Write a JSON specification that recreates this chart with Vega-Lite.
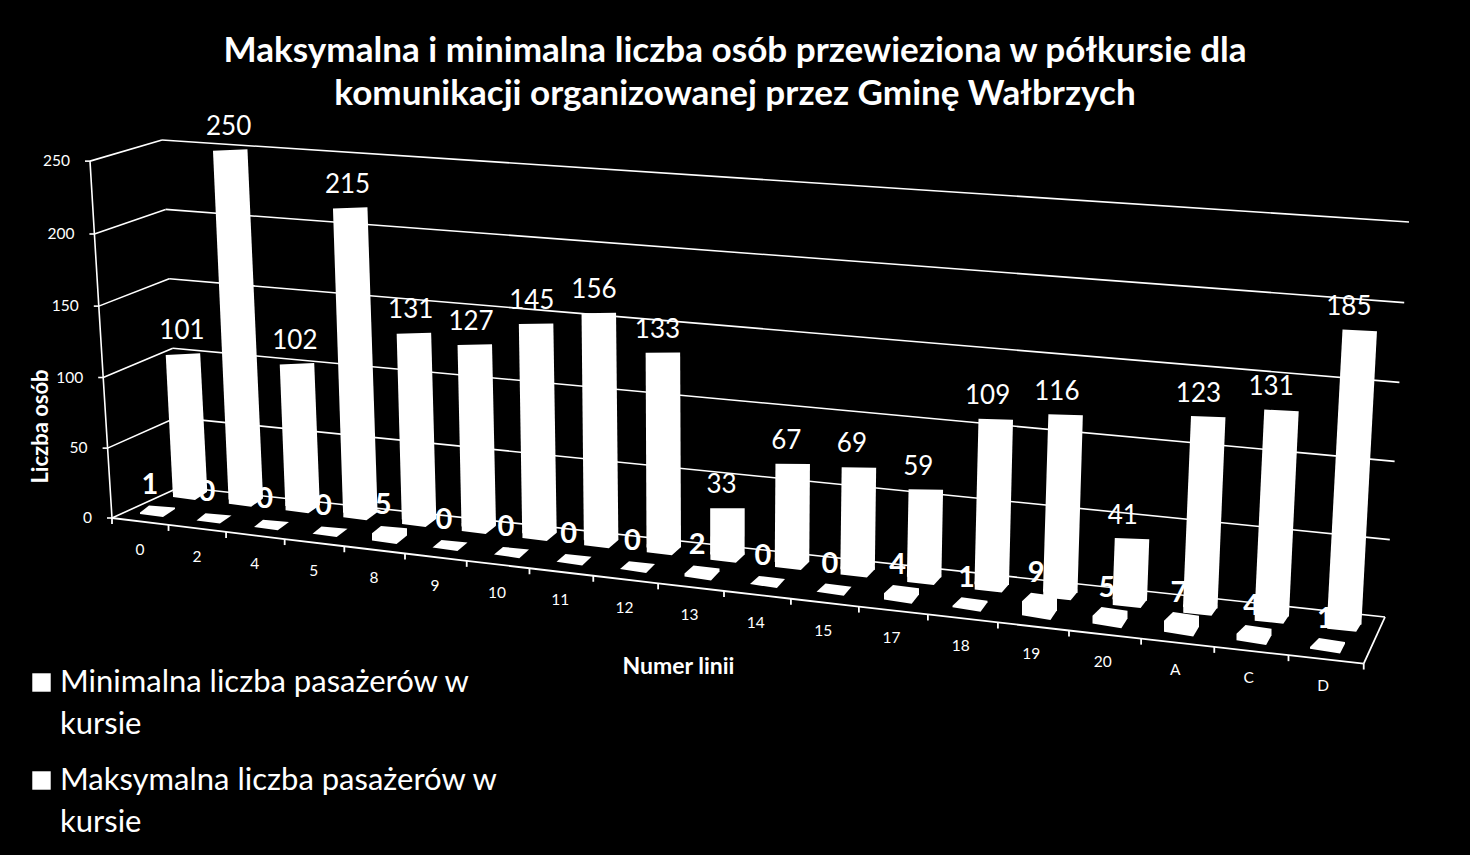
{
"$schema":"https://vega.github.io/schema/vega-lite/v6.json",
"width":1470,"height":855,"padding":0,"autosize":{"type":"none"},
"background":"#000000",
"config":{"view":{"stroke":null},"font":"Lato","style":{"guide-label":{"lineHeight":42}}},
"title":{"text":["Maksymalna i minimalna liczba osób przewieziona w półkursie dla","komunikacji organizowanej przez Gminę Wałbrzych"],"font":"Lato","fontSize":35.1,"fontWeight":"bold","color":"#ffffff","anchor":"middle","frame":"group","baseline":"top","lineHeight":43,"offset":0,"dy":112},
"datasets":{
"rows":[
{"linia":"0","seria":"Minimalna","wartosc":1},{"linia":"2","seria":"Minimalna","wartosc":0},{"linia":"4","seria":"Minimalna","wartosc":0},{"linia":"5","seria":"Minimalna","wartosc":0},{"linia":"8","seria":"Minimalna","wartosc":5},{"linia":"9","seria":"Minimalna","wartosc":0},{"linia":"10","seria":"Minimalna","wartosc":0},{"linia":"11","seria":"Minimalna","wartosc":0},{"linia":"12","seria":"Minimalna","wartosc":0},{"linia":"13","seria":"Minimalna","wartosc":2},{"linia":"14","seria":"Minimalna","wartosc":0},{"linia":"15","seria":"Minimalna","wartosc":0},{"linia":"17","seria":"Minimalna","wartosc":4},{"linia":"18","seria":"Minimalna","wartosc":1},{"linia":"19","seria":"Minimalna","wartosc":9},{"linia":"20","seria":"Minimalna","wartosc":5},{"linia":"A","seria":"Minimalna","wartosc":7},{"linia":"C","seria":"Minimalna","wartosc":4},{"linia":"D","seria":"Minimalna","wartosc":1},
{"linia":"0","seria":"Maksymalna","wartosc":101},{"linia":"2","seria":"Maksymalna","wartosc":250},{"linia":"4","seria":"Maksymalna","wartosc":102},{"linia":"5","seria":"Maksymalna","wartosc":215},{"linia":"8","seria":"Maksymalna","wartosc":131},{"linia":"9","seria":"Maksymalna","wartosc":127},{"linia":"10","seria":"Maksymalna","wartosc":145},{"linia":"11","seria":"Maksymalna","wartosc":156},{"linia":"12","seria":"Maksymalna","wartosc":133},{"linia":"13","seria":"Maksymalna","wartosc":33},{"linia":"14","seria":"Maksymalna","wartosc":67},{"linia":"15","seria":"Maksymalna","wartosc":69},{"linia":"17","seria":"Maksymalna","wartosc":59},{"linia":"18","seria":"Maksymalna","wartosc":109},{"linia":"19","seria":"Maksymalna","wartosc":116},{"linia":"20","seria":"Maksymalna","wartosc":41},{"linia":"A","seria":"Maksymalna","wartosc":123},{"linia":"C","seria":"Maksymalna","wartosc":131},{"linia":"D","seria":"Maksymalna","wartosc":185}
],
"ticks":[{"tick":0},{"tick":50},{"tick":100},{"tick":150},{"tick":200},{"tick":250}],
"boundaries":[{"i":0},{"i":1},{"i":2},{"i":3},{"i":4},{"i":5},{"i":6},{"i":7},{"i":8},{"i":9},{"i":10},{"i":11},{"i":12},{"i":13},{"i":14},{"i":15},{"i":16},{"i":17},{"i":18},{"i":19}]
},
"layer":[
{"data":{"name":"ticks"},
 "transform":[{"calculate":"112-0.088*datum.tick","as":"xl"},{"calculate":"518-1.39*datum.tick-0.00015*datum.tick*datum.tick","as":"yl"},{"calculate":"180-0.072*datum.tick","as":"xk"},{"calculate":"487-1.388*datum.tick","as":"yk"}],
 "mark":{"type":"rule","stroke":"#ffffff","strokeWidth":1.6},
 "encoding":{"x":{"field":"xl","type":"quantitative","scale":{"domain":[0,1470],"nice":false,"zero":false},"axis":{"domain":false,"ticks":false,"labels":false,"grid":false,"title":"Numer linii","titleFont":"Lato","titleFontSize":23,"titleFontWeight":"bold","titleColor":"#ffffff","titleX":678,"titleY":-200,"titleAnchor":"middle"}},
 "y":{"field":"yl","type":"quantitative","scale":{"domain":[855,0],"nice":false,"zero":false},"axis":{"domain":false,"ticks":false,"labels":false,"grid":false,"title":"Liczba osób","titleFont":"Lato","titleFontSize":22,"titleFontWeight":"bold","titleColor":"#ffffff","titleAngle":-90,"titleX":52,"titleY":426,"titleAnchor":"middle"}},
 "x2":{"field":"xk"},"y2":{"field":"yk"}}},
{"data":{"name":"ticks"},
 "transform":[{"calculate":"180-0.072*datum.tick","as":"xk"},{"calculate":"487-1.388*datum.tick","as":"yk"},{"calculate":"1385+0.096*datum.tick","as":"xr"},{"calculate":"617-1.54*datum.tick-0.00016*datum.tick*datum.tick","as":"yr"}],
 "mark":{"type":"rule","stroke":"#ffffff","strokeWidth":1.6},
 "encoding":{"x":{"field":"xk","type":"quantitative"},"y":{"field":"yk","type":"quantitative"},"x2":{"field":"xr"},"y2":{"field":"yr"}}},
{"data":{"name":"ticks"},
 "transform":[{"calculate":"112-0.088*datum.tick","as":"xl"},{"calculate":"518-1.39*datum.tick-0.00015*datum.tick*datum.tick","as":"yl"}],
 "mark":{"type":"line","stroke":"#ffffff","strokeWidth":1.6},
 "encoding":{"x":{"field":"xl","type":"quantitative"},"y":{"field":"yl","type":"quantitative"},"order":{"field":"tick"}}},
{"data":{"name":"ticks"},
 "transform":[{"calculate":"112-0.088*datum.tick","as":"xl"},{"calculate":"518-1.39*datum.tick-0.00015*datum.tick*datum.tick","as":"yl"},{"calculate":"datum.xl-5","as":"xm"}],
 "mark":{"type":"rule","stroke":"#ffffff","strokeWidth":1.6},
 "encoding":{"x":{"field":"xm","type":"quantitative"},"x2":{"field":"xl"},"y":{"field":"yl","type":"quantitative"}}},
{"data":{"name":"ticks"},
 "transform":[{"calculate":"92-0.088*datum.tick","as":"xt"},{"calculate":"518-1.39*datum.tick-0.00015*datum.tick*datum.tick","as":"yl"}],
 "mark":{"type":"text","align":"right","baseline":"middle","color":"#ffffff","font":"Lato","fontSize":15.5},
 "encoding":{"x":{"field":"xt","type":"quantitative"},"y":{"field":"yl","type":"quantitative"},"text":{"field":"tick","type":"quantitative"}}},
{"data":{"name":"boundaries"},
 "transform":[{"calculate":"112+56*datum.i+0.52*datum.i*datum.i","as":"xf"},{"calculate":"518+6.9*datum.i+0.04*datum.i*datum.i","as":"yf"}],
 "mark":{"type":"line","stroke":"#ffffff","strokeWidth":1.8},
 "encoding":{"x":{"field":"xf","type":"quantitative"},"y":{"field":"yf","type":"quantitative"},"order":{"field":"i"}}},
{"data":{"name":"boundaries"},
 "transform":[{"calculate":"112+56*datum.i+0.52*datum.i*datum.i","as":"xf"},{"calculate":"518+6.9*datum.i+0.04*datum.i*datum.i","as":"yf"},{"calculate":"datum.yf+6","as":"ye"}],
 "mark":{"type":"rule","stroke":"#ffffff","strokeWidth":1.8},
 "encoding":{"x":{"field":"xf","type":"quantitative"},"y":{"field":"yf","type":"quantitative"},"y2":{"field":"ye"}}},
{"data":{"name":"boundaries"},
 "transform":[{"filter":"datum.i==19"},{"calculate":"112+56*datum.i+0.52*datum.i*datum.i","as":"xf"},{"calculate":"518+6.9*datum.i+0.04*datum.i*datum.i","as":"yf"},{"calculate":"1385","as":"xr"},{"calculate":"617","as":"yr"}],
 "mark":{"type":"rule","stroke":"#ffffff","strokeWidth":1.8},
 "encoding":{"x":{"field":"xf","type":"quantitative"},"y":{"field":"yf","type":"quantitative"},"x2":{"field":"xr"},"y2":{"field":"yr"}}},
{"data":{"name":"rows"},
 "transform":[{"filter":"datum.seria=='Minimalna'"},{"calculate":"indexof(['0','2','4','5','8','9','10','11','12','13','14','15','17','18','19','20','A','C','D'],datum.linia)","as":"u"},{"calculate":"140+56.4*datum.u+0.5185*datum.u*datum.u","as":"xc"},{"calculate":"550+7*datum.u+0.03*datum.u*datum.u","as":"yc"}],
 "mark":{"type":"text","align":"center","baseline":"middle","color":"#ffffff","font":"Lato","fontSize":15.5},
 "encoding":{"x":{"field":"xc","type":"quantitative"},"y":{"field":"yc","type":"quantitative"},"text":{"field":"linia","type":"nominal"}}},
{"data":{"name":"rows"},
 "transform":[{"filter":"datum.seria=='Maksymalna'"},{"calculate":"indexof(['0','2','4','5','8','9','10','11','12','13','14','15','17','18','19','20','A','C','D'],datum.linia)","as":"u"},{"calculate":"190+55.3*datum.u+0.49*datum.u*datum.u","as":"xb"},{"calculate":"495+6.6*datum.u+0.04*datum.u*datum.u","as":"yb0"},{"calculate":"datum.yb0-3","as":"yb"},{"calculate":"datum.wartosc*(1.395+0.0115*datum.u)","as":"h"},{"calculate":"datum.xb+(-0.05+0.0057*datum.u)*datum.h","as":"xt"},{"calculate":"datum.yb0-datum.h","as":"yt"}],
 "mark":{"type":"rule","stroke":"#ffffff","strokeWidth":34.5},
 "encoding":{"x":{"field":"xb","type":"quantitative"},"y":{"field":"yb","type":"quantitative"},"x2":{"field":"xt"},"y2":{"field":"yt"}}},
{"data":{"name":"rows"},
 "transform":[{"calculate":"indexof(['0','2','4','5','8','9','10','11','12','13','14','15','17','18','19','20','A','C','D'],datum.linia)","as":"u"},{"calculate":"datum.seria=='Minimalna'?158+56*datum.u+0.5*datum.u*datum.u:190+55.3*datum.u+0.49*datum.u*datum.u","as":"xb"},{"calculate":"datum.seria=='Minimalna'?512+6.4*datum.u+0.06*datum.u*datum.u:495+6.6*datum.u+0.04*datum.u*datum.u","as":"yb"},{"calculate":"datum.wartosc*(1.395+0.0115*datum.u)","as":"h"},{"calculate":"datum.seria=='Minimalna'?'M-9,'+(-5-0.11*datum.u-datum.h)+'L17,'+(-3-datum.h)+'L17,-3L'+(5+0.39*datum.u)+','+(5+0.11*datum.u)+'L-18,2L-18,'+(2-datum.h)+'Z':'M-17,-6L17,-6L17,-3L'+(5+0.39*datum.u)+',5L-17,2Z'","as":"ksztalt"},{"calculate":"datum.seria+' liczba pasażerów w kursie'","as":"nazwa"}],
 "mark":{"type":"point","filled":true,"opacity":1,"size":4,"strokeWidth":0},
 "encoding":{"x":{"field":"xb","type":"quantitative"},"y":{"field":"yb","type":"quantitative"},"shape":{"field":"ksztalt","type":"nominal","scale":null},
 "color":{"field":"nazwa","type":"nominal","sort":["Minimalna liczba pasażerów w kursie","Maksymalna liczba pasażerów w kursie"],"scale":{"range":["#ffffff","#ffffff"]},
 "legend":{"orient":"none","legendX":26,"legendY":667,"title":null,"symbolType":"square","symbolSize":340,"symbolFillColor":"#ffffff","symbolStrokeWidth":0,"symbolOpacity":1,"labelFont":"Lato","labelFontSize":31,"labelColor":"#ffffff","labelLimit":500,"labelOffset":3,"rowPadding":24,"labelExpr":"[replace(datum.label,' kursie',''),'kursie']"}}}},
{"data":{"name":"rows"},
 "transform":[{"filter":"datum.seria=='Maksymalna'"},{"calculate":"indexof(['0','2','4','5','8','9','10','11','12','13','14','15','17','18','19','20','A','C','D'],datum.linia)","as":"u"},{"calculate":"datum.wartosc*(1.395+0.0115*datum.u)","as":"h"},{"calculate":"190+55.3*datum.u+0.49*datum.u*datum.u+(-0.05+0.0057*datum.u)*datum.h-1-0.55*datum.u","as":"xl"},{"calculate":"495+6.6*datum.u+0.04*datum.u*datum.u-datum.h-23","as":"yl"}],
 "mark":{"type":"text","align":"center","baseline":"middle","color":"#ffffff","font":"Lato","fontSize":26},
 "encoding":{"x":{"field":"xl","type":"quantitative"},"y":{"field":"yl","type":"quantitative"},"text":{"field":"wartosc","type":"quantitative"}}},
{"data":{"name":"rows"},
 "transform":[{"filter":"datum.seria=='Minimalna'"},{"calculate":"indexof(['0','2','4','5','8','9','10','11','12','13','14','15','17','18','19','20','A','C','D'],datum.linia)","as":"u"},{"calculate":"158+56*datum.u+0.5*datum.u*datum.u-8+0.3*datum.u","as":"xl"},{"calculate":"512+6.4*datum.u+0.06*datum.u*datum.u-datum.wartosc*(1.395+0.0115*datum.u)-26","as":"yl"}],
 "mark":{"type":"text","align":"center","baseline":"middle","color":"#ffffff","font":"Lato","fontSize":29,"fontWeight":"bold"},
 "encoding":{"x":{"field":"xl","type":"quantitative"},"y":{"field":"yl","type":"quantitative"},"text":{"field":"wartosc","type":"quantitative"}}}
]
}
